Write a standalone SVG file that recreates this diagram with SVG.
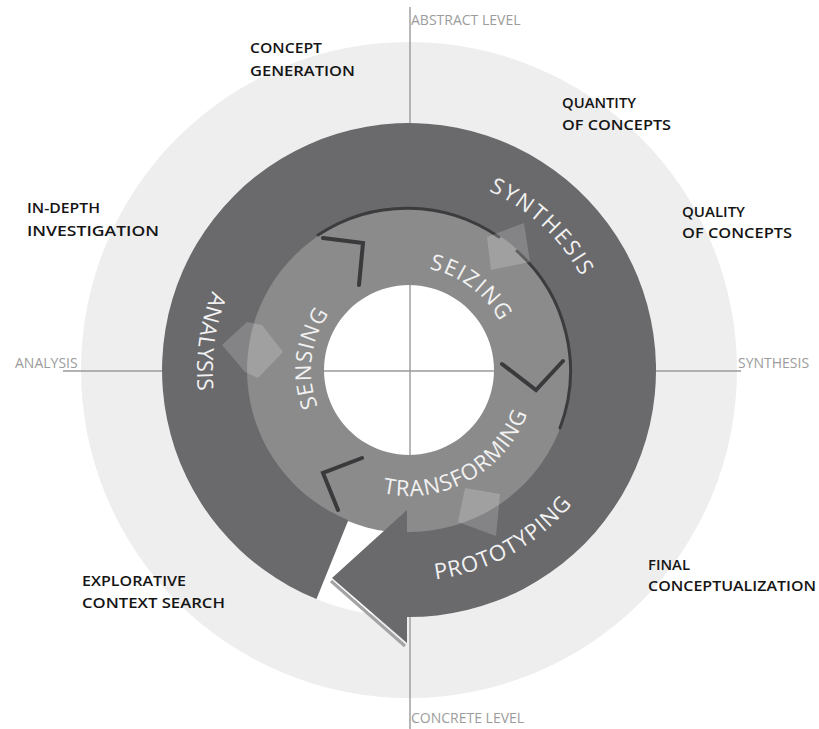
<svg xmlns="http://www.w3.org/2000/svg" xmlns:xlink="http://www.w3.org/1999/xlink" width="819" height="729" viewBox="0 0 819 729">
<style>
.axis{stroke:#9a9a9a;stroke-width:1.4;fill:none}
.axislbl{font-family:"Open Sans","Liberation Sans",sans-serif;font-size:14px;fill:#9c9c9c}
.lbl{font-family:"Open Sans","Liberation Sans",sans-serif;font-size:15px;font-weight:600;fill:#151515}
.ring{font-family:"Open Sans","Liberation Sans",sans-serif;font-size:22px;fill:#f2f2f2}
.chev{stroke:#3a3a3c;stroke-width:4;fill:none;stroke-linecap:round;stroke-linejoin:miter}
.shadow{stroke:#3c3c3e;stroke-width:3;fill:none;stroke-linecap:round}
.ghost{fill:#ffffff;fill-opacity:0.18}
</style>
<defs>
<path id="p-synthesis" d="M385.11,175.46 A196,196 0 0 1 604.73,380.26"/>
<path id="p-seizing" d="M385.83,269.64 A103,103 0 0 1 511.86,364.61"/>
<path id="p-sensing" d="M337.33,436.84 A98,98 0 0 1 355.63,287.81"/>
<path id="p-analysis" d="M296.66,190.21 A212,212 0 0 0 251.45,511.86"/>
<path id="p-transforming" d="M363.85,487.63 A126,126 0 0 0 532.69,394.04"/>
<path id="p-prototyping" d="M333.38,566.99 A211,211 0 0 0 616.12,410.26"/>
</defs>
<rect width="819" height="729" fill="#ffffff"/>
<g id="background">
<circle cx="409" cy="370" r="328" fill="#eeeeee"/>
<circle cx="409" cy="370" r="247" fill="#ffffff"/>
</g>
<g id="connectors">
<line class="axis" x1="410" y1="7" x2="410" y2="729"/>
<line class="axis" x1="63" y1="371" x2="741" y2="371"/>
</g>
<g id="inner-ring">
<path d="M409,207 A163,163 0 1 1 408.99,207 Z M409,285 A85,85 0 1 0 409.01,285 Z" fill="#8b8b8c" fill-rule="evenodd"/>
</g>
<g id="outer-arrow">
<path d="M331,581 L405,646" stroke="#a3a3a5" stroke-width="3" fill="none"/>
<path d="M316.47,599.01 A247,247 0 1 1 407,617 L407,643 L332,578 L407,510 L407,532 A162,162 0 1 0 348.31,520.2 Z" fill="#6a6a6d"/>
</g>
<g id="shadows">
<path class="shadow" d="M318,235 A161,161 0 0 1 499,237"/>
<path class="shadow" d="M517,251 A161,161 0 0 1 560,428"/>
</g>
<g id="chevrons">
<polyline class="chev" points="323,238 363,243 359,285"/>
<polyline class="chev" points="502,364 536,390 563,361"/>
<polyline class="chev" points="362,458 323,473 338,510"/>
</g>
<g id="exchange-arrows">
<polygon class="ghost" points="222,345 247,322 262,325 283,352 258,378 245,372"/>
<polygon class="ghost" points="487,237 524,223 530,262 491,270"/>
<polygon class="ghost" points="465,488 500,494 496,536 458,522"/>
</g>
<g id="node-synthesis"><text class="ring" letter-spacing="2"><textPath xlink:href="#p-synthesis" href="#p-synthesis" startOffset="50%" text-anchor="middle">SYNTHESIS</textPath></text></g>
<g id="node-seizing"><text class="ring" letter-spacing="1.5"><textPath xlink:href="#p-seizing" href="#p-seizing" startOffset="50%" text-anchor="middle">SEIZING</textPath></text></g>
<g id="node-sensing"><text class="ring" letter-spacing="1"><textPath xlink:href="#p-sensing" href="#p-sensing" startOffset="50%" text-anchor="middle">SENSING</textPath></text></g>
<g id="node-analysis"><text class="ring" letter-spacing="0.5"><textPath xlink:href="#p-analysis" href="#p-analysis" startOffset="50%" text-anchor="middle">ANALYSIS</textPath></text></g>
<g id="node-transforming"><text class="ring" letter-spacing="1"><textPath xlink:href="#p-transforming" href="#p-transforming" startOffset="50%" text-anchor="middle">TRANSFORMING</textPath></text></g>
<g id="node-prototyping"><text class="ring" letter-spacing="1"><textPath xlink:href="#p-prototyping" href="#p-prototyping" startOffset="50%" text-anchor="middle">PROTOTYPING</textPath></text></g>
<g id="axis-labels">
<text class="axislbl" x="411" y="25">ABSTRACT LEVEL</text>
<text class="axislbl" x="411" y="723">CONCRETE LEVEL</text>
<text class="axislbl" x="15" y="368">ANALYSIS</text>
<text class="axislbl" x="738" y="368">SYNTHESIS</text>
</g>
<g id="node-concept-generation"><text class="lbl" x="250" y="53" textLength="72" lengthAdjust="spacingAndGlyphs">CONCEPT</text><text class="lbl" x="250" y="76" textLength="105" lengthAdjust="spacingAndGlyphs">GENERATION</text></g>
<g id="node-quantity"><text class="lbl" x="562" y="108" textLength="74" lengthAdjust="spacingAndGlyphs">QUANTITY</text><text class="lbl" x="562" y="130" textLength="109" lengthAdjust="spacingAndGlyphs">OF CONCEPTS</text></g>
<g id="node-in-depth"><text class="lbl" x="27" y="213" textLength="73" lengthAdjust="spacingAndGlyphs">IN-DEPTH</text><text class="lbl" x="27" y="236" textLength="132" lengthAdjust="spacingAndGlyphs">INVESTIGATION</text></g>
<g id="node-quality"><text class="lbl" x="682" y="217" textLength="63" lengthAdjust="spacingAndGlyphs">QUALITY</text><text class="lbl" x="682" y="238" textLength="110" lengthAdjust="spacingAndGlyphs">OF CONCEPTS</text></g>
<g id="node-explorative"><text class="lbl" x="82" y="586" textLength="104" lengthAdjust="spacingAndGlyphs">EXPLORATIVE</text><text class="lbl" x="82" y="608" textLength="143" lengthAdjust="spacingAndGlyphs">CONTEXT SEARCH</text></g>
<g id="node-final"><text class="lbl" x="648" y="570" textLength="42" lengthAdjust="spacingAndGlyphs">FINAL</text><text class="lbl" x="648" y="591" textLength="168" lengthAdjust="spacingAndGlyphs">CONCEPTUALIZATION</text></g>
</svg>
